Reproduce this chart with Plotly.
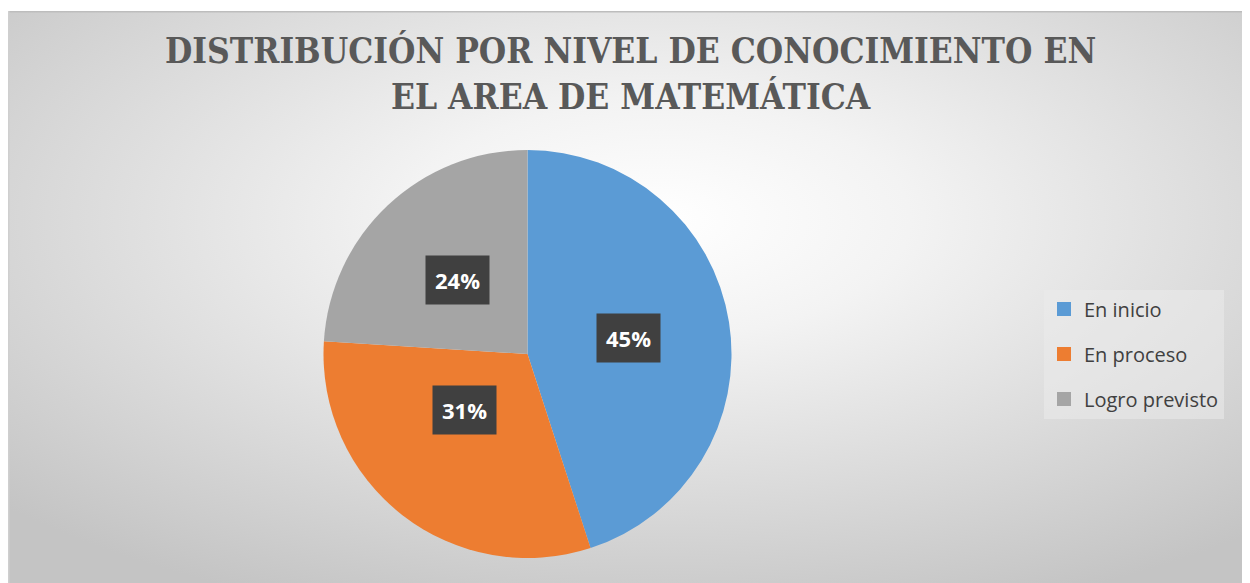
import math
import base64
import plotly.graph_objects as go

# ---- data ----
categories = ["En inicio", "En proceso", "Logro previsto"]
values = [45, 31, 24]
pct_labels = ["45%", "31%", "24%"]
colors = ["#5B9BD5", "#ED7D31", "#A5A5A5"]
title_lines = ["DISTRIBUCIÓN POR NIVEL DE CONOCIMIENTO EN", "EL AREA DE MATEMÁTICA"]

# ---- layout geometry (pixels, relative to the figure origin) ----
W, H = 1250, 583
CX, CY, R = 519.5, 346.0, 204.0
LABEL_R = 0.5  # fraction of radius where labels sit

# background radial gradient as an SVG image
svg = (
    '<svg xmlns="http://www.w3.org/2000/svg" width="1250" height="580" viewBox="0 0 1250 580">'
    '<defs><radialGradient id="g" cx="52%" cy="36%" r="72%">'
    '<stop offset="0" stop-color="#ffffff"/>'
    '<stop offset="0.28" stop-color="#f3f3f3"/>'
    '<stop offset="1" stop-color="#c4c4c4"/>'
    '</radialGradient></defs>'
    '<rect width="1250" height="580" fill="url(#g)"/>'
    '<rect x="0" y="0" width="1250" height="1.5" fill="#bdbdbd"/>'
    '<rect x="0" y="0" width="1.5" height="580" fill="#cfcfcf"/>'
    '</svg>'
)
bg_src = "data:image/svg+xml;base64," + base64.b64encode(svg.encode()).decode()

fig = go.Figure()

fig.add_trace(go.Pie(
    labels=categories,
    values=values,
    marker=dict(colors=colors, line=dict(width=0)),
    sort=False,
    direction="clockwise",
    rotation=0,
    textinfo="none",
    hoverinfo="label+percent",
    showlegend=False,
    domain=dict(x=[(CX - R) / W, (CX + R) / W], y=[1 - (CY + R) / H, 1 - (CY - R) / H]),
))

# legend entries via dummy traces (to get Excel-like spacing)
for i, (cat, col) in enumerate(zip(categories, colors)):
    fig.add_trace(go.Scatter(
        x=[None], y=[None], mode="markers", name=cat,
        marker=dict(symbol="square", size=14, color=col),
        legendgroup=f"g{i}", showlegend=True, hoverinfo="skip",
    ))

# data labels placed at mid-angle of each slice
total = sum(values)
annotations = []
cum = 0.0
for v, lab in zip(values, pct_labels):
    mid = (cum + v / 2) / total * 2 * math.pi
    cum += v
    px = CX + LABEL_R * R * math.sin(mid)
    py = CY - LABEL_R * R * math.cos(mid)
    annotations.append(dict(
        x=px / W, y=1 - py / H, xref="paper", yref="paper", text=lab, showarrow=False,
        font=dict(family="Open Sans", size=22, color="#ffffff", weight="bold"),
        bgcolor="#404040", borderpad=9,
    ))

# title as a centered two-line annotation
annotations.append(dict(
    x=622 / W, y=1 - 66 / H, xref="paper", yref="paper",
    xanchor="center", yanchor="middle", showarrow=False,
    text="<br>".join(title_lines), align="center",
    font=dict(family="DejaVu Serif Condensed, Liberation Serif, serif", size=35,
              color="#595959", weight="bold"),
))

fig.update_layout(
    width=W, height=H,
    margin=dict(l=0, r=0, t=0, b=0),
    paper_bgcolor="#ffffff",
    plot_bgcolor="rgba(0,0,0,0)",
    xaxis=dict(visible=False),
    yaxis=dict(visible=False),
    legend=dict(
        x=1036 / W, xanchor="left",
        y=1 - 346 / H, yanchor="middle",
        bgcolor="rgba(235,235,235,0.55)",
        font=dict(family="Open Sans", size=20, color="#404040"),
        tracegroupgap=16,
        itemsizing="trace",
    ),
    images=[dict(
        source=bg_src, xref="paper", yref="paper",
        x=0, y=1 - 3 / H, sizex=1, sizey=(H - 3) / H,
        xanchor="left", yanchor="top", sizing="stretch", layer="below",
    )],
    annotations=annotations,
)

fig.write_html("out.html")
